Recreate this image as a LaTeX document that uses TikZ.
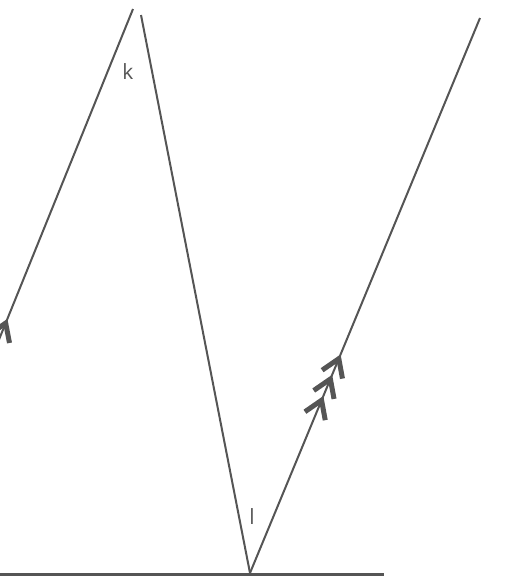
\documentclass[tikz,border=0pt]{standalone}
\usepackage{fontspec}
\setmainfont{Open Sans}
\usetikzlibrary{decorations.markings}
\definecolor{ink}{HTML}{555555}
\tikzset{
  ray/.style={draw=ink, line width=2pt},
  chev/.style={draw=ink, line width=5pt, line cap=butt, line join=miter},
  lbl/.style={text=ink, font=\fontsize{21}{24}\selectfont, inner sep=0pt},
  chevat/.style={postaction={decorate, decoration={markings,
     mark=at position #1 with {\draw[chev] (-18,11) -- (-1,0) -- (-18,-11);}}}}
}
\begin{document}
\begin{tikzpicture}[x=1pt,y=-1pt]
\useasboundingbox (0,0) rectangle (504,576);
\clip (0,0) rectangle (504,576);
\coordinate (a0) at (-25.5,400);
\coordinate (a1) at (133,9);
\coordinate (b0) at (141,15);
\coordinate (o) at (250,573);
\coordinate (c1) at (480,18);
\coordinate (g0) at (0,574);
\coordinate (g1) at (384,574);
\draw[ray, chevat=84pt] (a0) -- (a1);
\draw[ray] (b0) -- (o);
\draw[ray, chevat=188pt, chevat=211pt, chevat=233pt] (o) -- (c1);
\draw[draw=ink, line width=3pt] (g0) -- (g1);
\node[lbl] (k) at (128,72) {k};
\node[lbl] (l) at (252,517) {l};
\end{tikzpicture}
\end{document}
